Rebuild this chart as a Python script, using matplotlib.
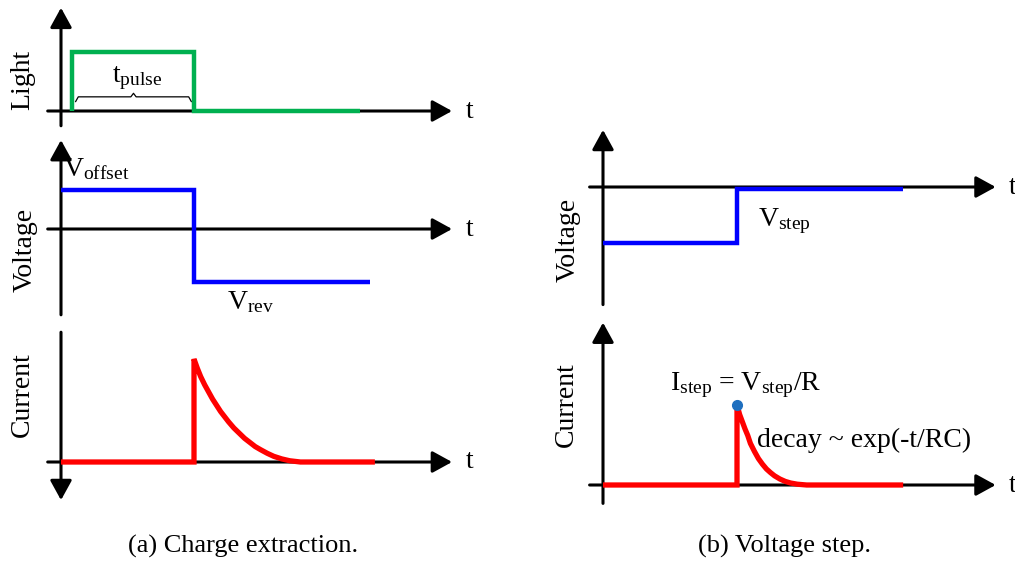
import matplotlib.pyplot as plt

plt.rcParams["font.family"] = ["Liberation Serif", "DejaVu Serif"]
plt.rcParams["mathtext.fontset"] = "custom"
plt.rcParams["mathtext.rm"] = "Liberation Serif"
plt.rcParams["mathtext.it"] = "Liberation Serif:italic"

# ---------------- DATA ----------------
# (a) charge extraction
light_t = [0.08, 0.08, 1.0, 1.0, 2.25]
light_v = [0, 1, 1, 0, 0]

volt_a_t = [0, 1.0, 1.0, 2.32]
volt_a_v = [1, 1, -1.36, -1.36]

curr_a_t = [0, 1.0, 1.0, 1.025, 1.05, 1.08, 1.11, 1.14, 1.17, 1.20, 1.23,
            1.26, 1.30, 1.34, 1.38, 1.42, 1.46, 1.50, 1.55, 1.60, 1.66,
            1.72, 1.80, 2.36]
curr_a_i = [0, 0, 1.0, 0.91, 0.83, 0.75, 0.68, 0.61, 0.55, 0.49, 0.44,
            0.39, 0.33, 0.28, 0.23, 0.19, 0.15, 0.12, 0.085, 0.055, 0.03,
            0.012, 0, 0]

# (b) voltage step
volt_b_t = [0, 1.0, 1.0, 2.24]
volt_b_v = [-1, -1, -0.03, -0.03]

curr_b_t = [0, 1.0, 1.0, 1.02, 1.04, 1.06, 1.08, 1.10, 1.13, 1.16, 1.19,
            1.22, 1.25, 1.28, 1.32, 1.36, 1.40, 1.45, 1.52, 2.24]
curr_b_i = [0, 0, 1.0, 0.88, 0.79, 0.70, 0.62, 0.52, 0.42, 0.33, 0.26,
            0.20, 0.155, 0.115, 0.075, 0.045, 0.025, 0.01, 0, 0]

peak_b = (1.0, 1.0)

GREEN = "#00b050"
BLUE = "#0000ff"
RED = "#ff0000"
DOT = "#1f6fbf"
FS = 20

fig = plt.figure(figsize=(10.15, 5.63), dpi=100)
W, H = 1015, 563


def add_panel(x0, y0, sx, sy, xlim, ylim):
    left = (x0 + xlim[0] * sx) / W
    width = (xlim[1] - xlim[0]) * sx / W
    bottom = 1 - (y0 - ylim[0] * sy) / H
    height = (ylim[1] - ylim[0]) * sy / H
    ax = fig.add_axes([left, bottom, width, height])
    ax.set_xlim(xlim)
    ax.set_ylim(ylim)
    ax.axis("off")
    return ax


def arrow(ax, start, tip):
    ax.annotate(
        "", xy=tip, xytext=start,
        arrowprops=dict(
            arrowstyle="-|>,head_length=1.0,head_width=0.55",
            mutation_scale=12, lw=2.2, color="black",
            shrinkA=0, shrinkB=0
        ),
        zorder=1
    )


def draw_axes(ax, h_end, v_lo, v_hi, v_arrow="top"):
    arrow(ax, (-0.1, 0), (h_end, 0))
    if v_arrow == "top":
        arrow(ax, (0, v_lo), (0, v_hi))
    else:
        arrow(ax, (0, v_hi), (0, v_lo))


line_kw = dict(lw=3.2, solid_capstyle="butt", solid_joinstyle="miter", zorder=3)
curve_kw = dict(lw=3.8, solid_capstyle="butt", solid_joinstyle="miter", zorder=3)

# ---------------- (a) LIGHT ----------------
ax1 = add_panel(61, 111, 133, 59, (-0.1, 3.0), (-0.3, 1.8))
draw_axes(ax1, 2.94, -0.25, 1.75)
ax1.plot(light_t, light_v, color=GREEN, **line_kw)

# brace under t_pulse
b0, b1 = light_t[0] + 0.03, light_t[2] - 0.02
bm = (b0 + b1) / 2
ax1.plot([b0, b0 + 0.02, bm - 0.02, bm, bm + 0.02, b1 - 0.02, b1],
         [0.16, 0.24, 0.24, 0.3, 0.24, 0.24, 0.16],
         color="black", lw=0.9, zorder=2)
ax1.text(bm + 0.03, 0.56, r"$\mathrm{t}_{\mathrm{pulse}}$", fontsize=FS,
         ha="center", va="center")
ax1.text(3.07, 0, "t", fontsize=FS, ha="center", va="center")
ax1.text(-0.29, 0.53, "Light", fontsize=FS, rotation=90,
         ha="center", va="center")

# ---------------- (a) VOLTAGE ----------------
ax2 = add_panel(61, 229, 133, 39, (-0.1, 3.0), (-2.3, 2.4))
draw_axes(ax2, 2.94, -2.2, 2.28)
ax2.plot(volt_a_t, volt_a_v, color=BLUE, **line_kw)
ax2.text(0.015, 1.54, r"$\mathrm{V}_{\mathrm{offset}}$", fontsize=FS,
         ha="left", va="center")
ax2.text(1.25, -1.87, r"$\mathrm{V}_{\mathrm{rev}}$", fontsize=FS,
         ha="left", va="center")
ax2.text(3.07, 0, "t", fontsize=FS, ha="center", va="center")
ax2.text(-0.27, -0.54, "Voltage", fontsize=FS, rotation=90,
         ha="center", va="center")

# ---------------- (a) CURRENT ----------------
ax3 = add_panel(61, 462, 133, 103, (-0.1, 3.0), (-0.45, 1.3))
draw_axes(ax3, 2.94, -0.37, 1.26, v_arrow="bottom")
ax3.plot(curr_a_t, curr_a_i, color=RED, **curve_kw)
ax3.text(3.07, 0, "t", fontsize=FS, ha="center", va="center")
ax3.text(-0.29, 0.65, "Current", fontsize=FS, rotation=90,
         ha="center", va="center")

# ---------------- (b) VOLTAGE ----------------
ax4 = add_panel(603, 187, 134, 56, (-0.1, 3.0), (-2.2, 1.15))
draw_axes(ax4, 2.93, -2.1, 1.02)
ax4.plot(volt_b_t, volt_b_v, color=BLUE, **line_kw)
ax4.text(1.16, -0.61, r"$\mathrm{V}_{\mathrm{step}}$", fontsize=FS,
         ha="left", va="center")
ax4.text(3.06, 0, "t", fontsize=FS, ha="center", va="center")
ax4.text(-0.26, -0.95, "Voltage", fontsize=FS, rotation=90,
         ha="center", va="center")

# ---------------- (b) CURRENT ----------------
ax5 = add_panel(603, 485, 134, 80, (-0.1, 3.0), (-0.3, 2.1))
draw_axes(ax5, 2.93, -0.23, 2.03)
ax5.plot(curr_b_t, curr_b_i, color=RED, **curve_kw)
ax5.plot(*peak_b, "o", color=DOT, markersize=7, zorder=4)
ax5.text(0.5, 1.25,
         r"$\mathrm{I}_{\mathrm{step}}$ = $\mathrm{V}_{\mathrm{step}}$/R",
         fontsize=FS, ha="left", va="center")
ax5.text(1.15, 0.56, "decay ~ exp(-t/RC)", fontsize=FS,
         ha="left", va="center")
ax5.text(3.06, 0, "t", fontsize=FS, ha="center", va="center")
ax5.text(-0.27, 1.01, "Current", fontsize=FS, rotation=90,
         ha="center", va="center")

# ---------------- CAPTIONS ----------------
fig.text(243 / W, 1 - 546 / H, "(a) Charge extraction.", fontsize=19,
         ha="center", va="center")
fig.text(785 / W, 1 - 546 / H, "(b) Voltage step.", fontsize=19,
         ha="center", va="center")

fig.savefig("out.png", dpi=100)
